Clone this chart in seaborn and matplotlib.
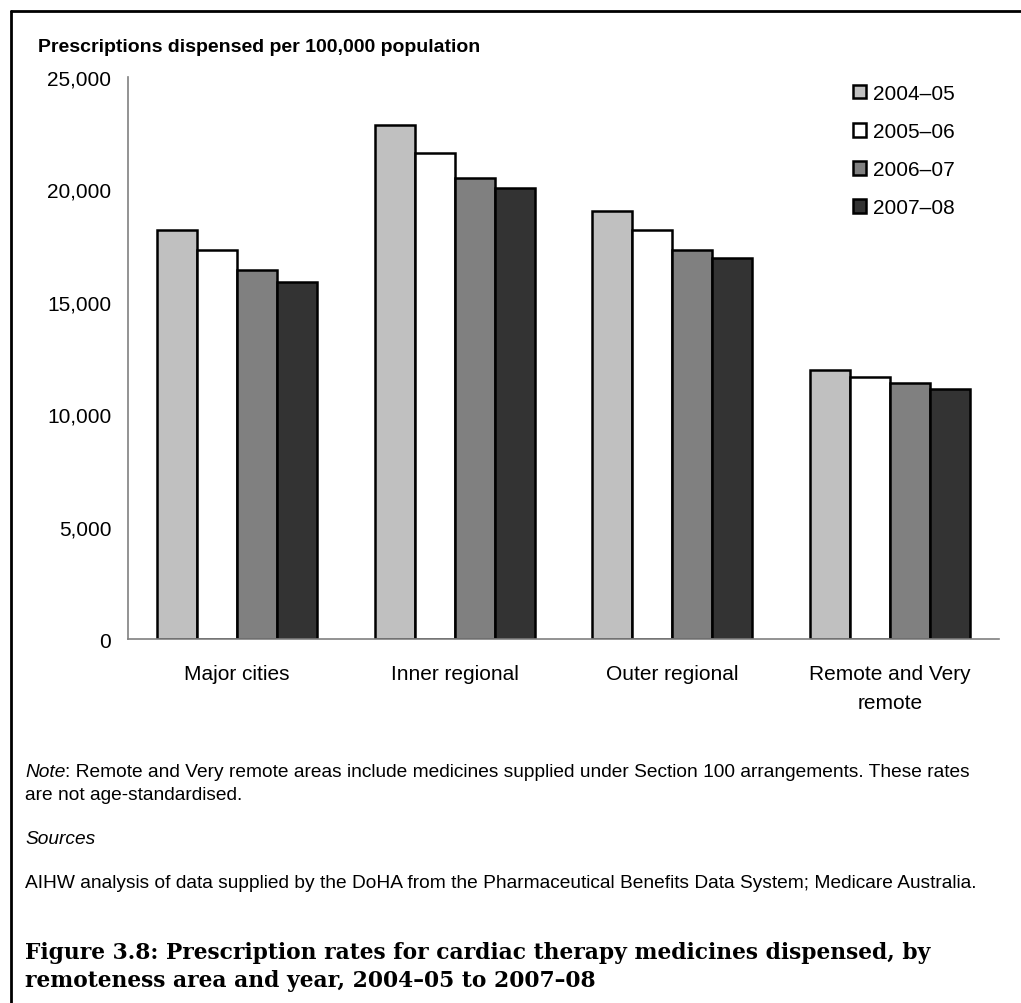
import numpy as np
import pandas as pd
import matplotlib
matplotlib.use("Agg")
import matplotlib.pyplot as plt
from matplotlib.lines import Line2D
from matplotlib.ticker import StrMethodFormatter
import seaborn as sns

# Veriler
areas = ["Major cities", "Inner regional", "Outer regional", "Remote and Very\nremote"]
years = ["2004\u201305", "2005\u201306", "2006\u201307", "2007\u201308"]
rate_2004_05 = [18200, 22850, 19050, 11980]
rate_2005_06 = [17300, 21600, 18200, 11650]
rate_2006_07 = [16420, 20520, 17300, 11400]
rate_2007_08 = [15900, 20080, 16950, 11100]
bar_colors = ["#C0C0C0", "#FFFFFF", "#808080", "#333333"]

df = pd.DataFrame({
    "area": areas * 4,
    "year": np.repeat(years, 4),
    "rate": rate_2004_05 + rate_2005_06 + rate_2006_07 + rate_2007_08,
})

sns.set_style("white")
plt.rcParams["font.family"] = ["Liberation Sans", "DejaVu Sans"]
plt.rcParams["text.color"] = "black"
plt.rcParams["xtick.color"] = "black"
plt.rcParams["ytick.color"] = "black"

fig = plt.figure(figsize=(10.21, 10.04), dpi=100)
ax = fig.add_axes([128 / 1021, 1 - 640 / 1004, (999 - 128) / 1021, (640 - 78) / 1004])

sns.barplot(data=df, x="area", y="rate", hue="year", order=areas, hue_order=years,
            palette=bar_colors, width=0.735, gap=0, edgecolor="black", linewidth=1.8,
            saturation=1, ax=ax)

ax.set_ylim(0, 25000)
ax.set_yticks(range(0, 25001, 5000))
ax.yaxis.set_major_formatter(StrMethodFormatter("{x:,.0f}"))
ax.set_xlabel("")
ax.set_ylabel("")
for side in ["top", "right"]:
    ax.spines[side].set_visible(False)
for side in ["left", "bottom"]:
    ax.spines[side].set_color("#808080")
    ax.spines[side].set_linewidth(1.2)
ax.tick_params(axis="y", direction="out", length=6, color="#808080", width=1.2,
               labelsize=15, pad=6)
ax.tick_params(axis="x", length=0, labelsize=15, pad=18)
for lbl in ax.get_xticklabels():
    lbl.set_linespacing(1.65)

ax.legend(loc="upper left", bbox_to_anchor=(853 / 1021, 1 - 85 / 1004),
          bbox_transform=fig.transFigure, frameon=False, fontsize=15,
          handlelength=0.62, handleheight=0.62, handletextpad=0.35,
          labelspacing=0.92, borderpad=0, borderaxespad=0)

fig.text(38 / 1021, 1 - 48 / 1004, "Prescriptions dispensed per 100,000 population",
         fontsize=14, fontweight="bold", va="center", ha="left")

fs_note = 13.8
note_y = 1 - 773 / 1004
t = fig.text(25 / 1021, note_y, "Note", fontsize=fs_note, style="italic", va="center")
fig.canvas.draw()
bb = t.get_window_extent()
fig.text(bb.x1 / 1021, note_y,
         ": Remote and Very remote areas include medicines supplied under Section 100 arrangements. These rates",
         fontsize=fs_note, va="center")
fig.text(25 / 1021, 1 - 796 / 1004, "are not age-standardised.", fontsize=fs_note, va="center")
fig.text(25 / 1021, 1 - 840 / 1004, "Sources", fontsize=fs_note, style="italic", va="center")
fig.text(25 / 1021, 1 - 884 / 1004,
         "AIHW analysis of data supplied by the DoHA from the Pharmaceutical Benefits Data System; Medicare Australia.",
         fontsize=fs_note, va="center")

serif = ["DejaVu Serif", "Liberation Serif"]
fig.text(25 / 1021, 1 - 959 / 1004,
         "Figure 3.8: Prescription rates for cardiac therapy medicines dispensed, by",
         family=serif, fontsize=15.7, fontweight="bold", va="baseline")
fig.text(25 / 1021, 1 - 987 / 1004,
         "remoteness area and year, 2004\u201305 to 2007\u201308",
         family=serif, fontsize=15.7, fontweight="bold", va="baseline")

# çerçeve (sol ve üst kenar)
fig.add_artist(Line2D([11 / 1021, 11 / 1021], [0, 1 - 12 / 1004], color="black", lw=2,
                      transform=fig.transFigure))
fig.add_artist(Line2D([11 / 1021, 1], [1 - 12 / 1004, 1 - 12 / 1004], color="black", lw=2,
                      transform=fig.transFigure))

fig.savefig("out.png", dpi=100)
